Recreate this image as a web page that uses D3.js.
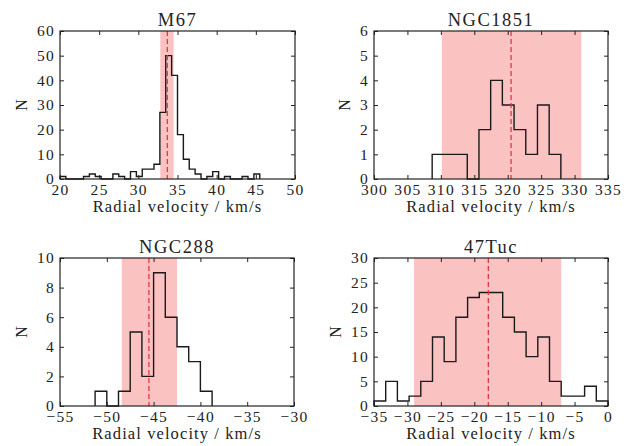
<!DOCTYPE html>
<html>
<head>
<meta charset="utf-8">
<script src="https://cdn.jsdelivr.net/npm/d3@7"></script>
<style>
  body { margin: 0; background: #fff; }
  svg { display: block; }
</style>
</head>
<body>
<svg width="633" height="446"></svg>
<script>
// ---- data ----
var titles = ["M67", "NGC1851", "NGC288", "47Tuc"];

// M67
var m67Edges = [20, 20.75, 21.5, 22.25, 23, 23.75, 24.5, 25.25, 26, 26.75, 27.5, 28.25, 29, 29.75,
  30.5, 31.25, 32, 32.75, 33.5, 34.25, 35, 35.75, 36.5, 37.25, 38, 38.75, 39.5, 40.25, 41,
  41.75, 42.5, 43.25, 44, 44.75, 45.5];
var m67Counts = [1, 0, 0, 0, 1, 2, 1, 0, 0, 2, 1, 0, 3, 1, 4, 4, 6, 27, 50, 42, 18, 8, 4, 2,
  0, 1, 3, 0, 1, 0, 0, 1, 0, 2];
var m67Band = [32.8, 34.5], m67Mean = 33.7;
var m67XTicks = [20, 25, 30, 35, 40, 45, 50], m67YTicks = [0, 10, 20, 30, 40, 50, 60];

// NGC1851
var n1851Edges = [308.7, 310.45, 312.2, 313.95, 315.7, 317.45, 319.2, 320.95, 322.7, 324.45, 326.2, 327.95];
var n1851Counts = [1, 1, 1, 0, 2, 4, 3, 2, 1, 3, 1];
var n1851Band = [310.15, 331], n1851Mean = 320.5;
var n1851XTicks = [300, 305, 310, 315, 320, 325, 330, 335], n1851YTicks = [0, 1, 2, 3, 4, 5, 6];

// NGC288
var n288Edges = [-51.25, -50, -48.75, -47.5, -46.25, -45, -43.75, -42.5, -41.25, -40, -38.75];
var n288Counts = [1, 0, 1, 5, 2, 9, 6, 4, 3, 1];
var n288Band = [-48.4, -42.5], n288Mean = -45.5;
var n288XTicks = [-55, -50, -45, -40, -35, -30], n288YTicks = [0, 2, 4, 6, 8, 10];

// 47Tuc
var tucEdges = [-35, -33.25, -31.5, -29.75, -28, -26.25, -24.5, -22.75, -21, -19.25, -17.5,
  -15.75, -14, -12.25, -10.5, -8.75, -7, -5.25, -3.5, -1.75, 0];
var tucCounts = [1, 5, 1, 2, 5, 14, 9, 18, 22, 23, 23, 18, 15, 10, 14, 5, 2, 2, 4, 1];
var tucBand = [-29, -7], tucMean = -17.9;
var tucXTicks = [-35, -30, -25, -20, -15, -10, -5, 0], tucYTicks = [0, 5, 10, 15, 20, 25, 30];

var xLabel = "Radial velocity / km/s", yLabel = "N";

// ---- layout ----
var panels = [
  {title: titles[0], edges: m67Edges, counts: m67Counts, band: m67Band, mean: m67Mean,
   xt: m67XTicks, yt: m67YTicks, left: 60, top: 31, w: 235, h: 148},
  {title: titles[1], edges: n1851Edges, counts: n1851Counts, band: n1851Band, mean: n1851Mean,
   xt: n1851XTicks, yt: n1851YTicks, left: 374, top: 31, w: 234, h: 148},
  {title: titles[2], edges: n288Edges, counts: n288Counts, band: n288Band, mean: n288Mean,
   xt: n288XTicks, yt: n288YTicks, left: 60, top: 258, w: 234, h: 148},
  {title: titles[3], edges: tucEdges, counts: tucCounts, band: tucBand, mean: tucMean,
   xt: tucXTicks, yt: tucYTicks, left: 374, top: 258, w: 234, h: 148}
];

var svg = d3.select("svg");
var font = "Liberation Serif, DejaVu Serif, serif", ink = "#222";
var fmt = d3.format("d");

panels.forEach(function(p) {
  var g = svg.append("g").attr("transform", "translate(" + p.left + "," + p.top + ")");

  var x = d3.scaleLinear().domain(d3.extent(p.xt)).range([0, p.w]),
      y = d3.scaleLinear().domain(d3.extent(p.yt)).range([p.h, 0]);

  // shaded band and histogram
  g.append("rect")
    .attr("x", x(p.band[0])).attr("y", 0)
    .attr("width", x(p.band[1]) - x(p.band[0])).attr("height", p.h)
    .attr("fill", "#fbc2c2");

  var pts = [[p.edges[0], 0]];
  p.counts.forEach(function(c, i) {
    pts.push([p.edges[i], c]);
    pts.push([p.edges[i + 1], c]);
  });
  pts.push([p.edges[p.edges.length - 1], 0]);

  g.append("path")
    .attr("d", d3.line().x(d => x(d[0])).y(d => y(d[1]))(pts))
    .attr("fill", "none").attr("stroke", "#1a1a1a").attr("stroke-width", 1.4);

  g.append("line")
    .attr("x1", x(p.mean)).attr("x2", x(p.mean)).attr("y1", 0).attr("y2", p.h)
    .attr("stroke", "#e0393c").attr("stroke-width", 1.3).attr("stroke-dasharray", "5,3");

  // axes, ticks pointing inward on all sides
  function style(a) {
    a.select(".domain").remove();
    a.selectAll(".tick line").attr("stroke", ink);
    a.selectAll("text").attr("fill", ink).attr("letter-spacing", 1.3);
    a.attr("font-family", font).attr("font-size", 15.5);
  }
  g.append("g").attr("transform", "translate(0," + p.h + ")")
    .call(d3.axisBottom(x).tickValues(p.xt).tickFormat(fmt).tickSizeInner(-4).tickSizeOuter(0).tickPadding(5))
    .call(style);
  g.append("g")
    .call(d3.axisTop(x).tickValues(p.xt).tickSizeInner(-4).tickSizeOuter(0).tickFormat(""))
    .call(style);
  var ya = g.append("g")
    .call(d3.axisLeft(y).tickValues(p.yt).tickFormat(fmt).tickSizeInner(-4).tickSizeOuter(0).tickPadding(5))
    .call(style);
  g.append("g").attr("transform", "translate(" + p.w + ",0)")
    .call(d3.axisRight(y).tickValues(p.yt).tickSizeInner(-4).tickSizeOuter(0).tickFormat(""))
    .call(style);

  g.append("rect")
    .attr("width", p.w).attr("height", p.h)
    .attr("fill", "none").attr("stroke", ink).attr("stroke-width", 1.2);

  // labels
  var tw = d3.max(ya.selectAll("text").nodes(), n => n.getComputedTextLength());
  g.append("text")
    .attr("x", p.w / 2).attr("y", -5)
    .attr("text-anchor", "middle").attr("font-family", font).attr("font-size", 18.5)
    .attr("letter-spacing", 1.5)
    .attr("fill", ink).text(p.title);
  g.append("text")
    .attr("x", p.w / 2).attr("y", p.h + 33)
    .attr("text-anchor", "middle").attr("font-family", font).attr("font-size", 16.5)
    .attr("letter-spacing", 1.1)
    .attr("fill", ink).text(xLabel);
  g.append("text")
    .attr("transform", "translate(" + (-5 - tw - 10) + "," + (p.h / 2) + ") rotate(-90)")
    .attr("text-anchor", "middle").attr("font-family", font).attr("font-size", 16)
    .attr("fill", ink).text(yLabel);
});
</script>
</body>
</html>
